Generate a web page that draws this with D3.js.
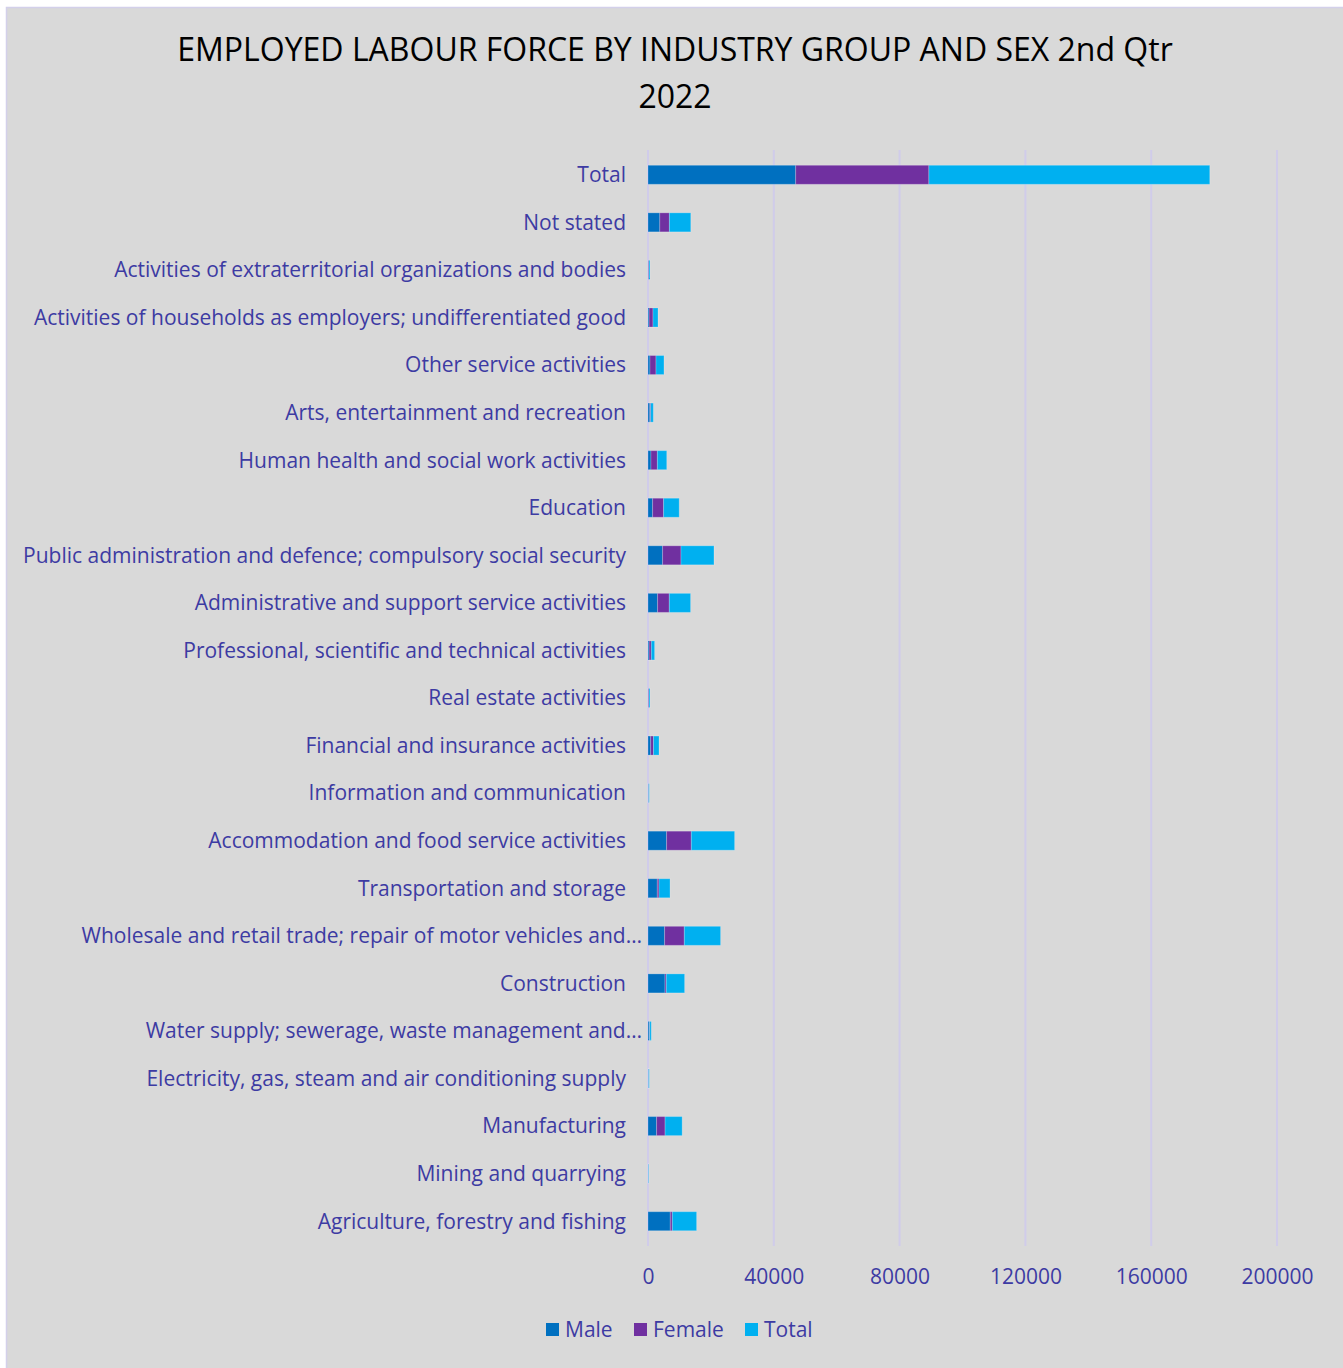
<!DOCTYPE html>
<html>
<head>
<meta charset="utf-8">
<script src="https://cdn.jsdelivr.net/npm/d3@7"></script>
<style>
  html, body { margin: 0; padding: 0; background: #ffffff; }
  svg { display: block; }
</style>
</head>
<body>
<svg id="chart" width="1343" height="1368"></svg>
<script>
// Industry groups, bottom to top as listed in the survey table
const categories = [
  "Agriculture, forestry and fishing",
  "Mining and quarrying",
  "Manufacturing",
  "Electricity, gas, steam and air conditioning supply",
  "Water supply; sewerage, waste management and\u2026",
  "Construction",
  "Wholesale and retail trade; repair of motor vehicles and\u2026",
  "Transportation and storage",
  "Accommodation and food service activities",
  "Information and communication",
  "Financial and insurance activities",
  "Real estate activities",
  "Professional, scientific and technical activities",
  "Administrative and support service activities",
  "Public administration and defence; compulsory social security",
  "Education",
  "Human health and social work activities",
  "Arts, entertainment and recreation",
  "Other service activities",
  "Activities of households as employers; undifferentiated good",
  "Activities of extraterritorial organizations and bodies",
  "Not stated",
  "Total"
];

const male   = [7090, 100, 2730, 150, 400, 5400, 5280, 2960, 5910, 100, 850, 130, 350, 3050, 4640, 1470, 950, 580, 630, 350, 150, 3750, 46960];
const female = [640, 30, 2700, 50, 120, 420, 6260, 540, 7860, 100, 900, 190, 700, 3720, 5850, 3490, 2030, 260, 1910, 1240, 170, 3050, 42350];
const total  = [7730, 130, 5430, 200, 520, 5820, 11540, 3500, 13770, 200, 1750, 320, 1050, 6770, 10490, 4960, 2980, 840, 2540, 1590, 320, 6800, 89310];

const seriesNames = ["Male", "Female", "Total"];
const seriesColors = ["#0070C0", "#7030A0", "#00B0F0"];
const xTicks = [0, 40000, 80000, 120000, 160000, 200000];

const titleLines = ["EMPLOYED LABOUR FORCE BY INDUSTRY GROUP AND SEX 2nd Qtr", "2022"];

const textColor = "#3D3BA3";
const font = "'Open Sans', 'Noto Sans', sans-serif";
const labelSize = 21;

const svg = d3.select("#chart");

// chart panel
svg.append("rect")
  .attr("x", 6.5).attr("y", 7.5)
  .attr("width", 1343).attr("height", 1368)
  .attr("fill", "#D9D9D9")
  .attr("stroke", "#D3D0EA")
  .attr("stroke-width", 1.5);

// title
svg.append("g").selectAll("text")
  .data(titleLines)
  .join("text")
  .attr("x", 675)
  .attr("y", (d, i) => 61 + i * 47)
  .attr("text-anchor", "middle")
  .attr("font-family", font)
  .attr("font-size", 32)
  .attr("fill", "#000000")
  .text(d => d);

const rows = categories.map((c, i) => ({
  name: c, Male: male[i], Female: female[i], Total: total[i]
}));

const x = d3.scaleLinear().domain([0, 200000]).range([648, 1277]);
const y = d3.scaleBand()
  .domain(categories.slice().reverse())
  .range([151, 1245])
  .paddingInner(0.6)
  .paddingOuter(0.3);

// vertical gridlines
svg.append("g").selectAll("line")
  .data(xTicks)
  .join("line")
  .attr("x1", d => x(d)).attr("x2", d => x(d))
  .attr("y1", 150).attr("y2", 1246)
  .attr("stroke", "#D0CCEA")
  .attr("stroke-width", 2);

// stacked bars
const stack = d3.stack().keys(seriesNames)(rows);
const color = d3.scaleOrdinal().domain(seriesNames).range(seriesColors);

svg.append("g").selectAll("g")
  .data(stack)
  .join("g")
  .attr("fill", d => color(d.key))
  .selectAll("rect")
  .data(d => d)
  .join("rect")
  .attr("x", d => x(d[0]))
  .attr("y", d => y(d.data.name))
  .attr("width", d => Math.max(0, x(d[1]) - x(d[0])))
  .attr("height", y.bandwidth())
  .attr("stroke", "rgba(255,255,255,0.22)")
  .attr("stroke-width", 1);

// category axis labels
const yAxis = d3.axisLeft(y).tickSize(0).tickPadding(0);
const gy = svg.append("g")
  .attr("transform", "translate(626,0)")
  .call(yAxis);
gy.select(".domain").remove();
gy.selectAll("text")
  .attr("font-family", font)
  .attr("font-size", labelSize)
  .attr("fill", textColor)
  .attr("dy", "0.35em")
  .attr("x", d => d.endsWith("\u2026") ? 16 : 0);

// value axis labels
const xAxis = d3.axisBottom(x).tickValues(xTicks).tickFormat(d3.format("d")).tickSize(0).tickPadding(0);
const gx = svg.append("g")
  .attr("transform", "translate(0,1277)")
  .call(xAxis);
gx.select(".domain").remove();
gx.selectAll("text")
  .attr("font-family", font)
  .attr("font-size", labelSize)
  .attr("fill", textColor)
  .attr("y", 0)
  .attr("dy", "0.35em");

// legend
const legendX = [546, 634, 745];
const legend = svg.append("g").selectAll("g")
  .data(seriesNames)
  .join("g")
  .attr("transform", (d, i) => `translate(${legendX[i]},1323)`);
legend.append("rect")
  .attr("width", 13).attr("height", 13)
  .attr("fill", d => color(d));
legend.append("text")
  .attr("x", 19).attr("y", 7)
  .attr("dy", "0.35em")
  .attr("font-family", font)
  .attr("font-size", labelSize)
  .attr("fill", textColor)
  .text(d => d);
</script>
</body>
</html>
